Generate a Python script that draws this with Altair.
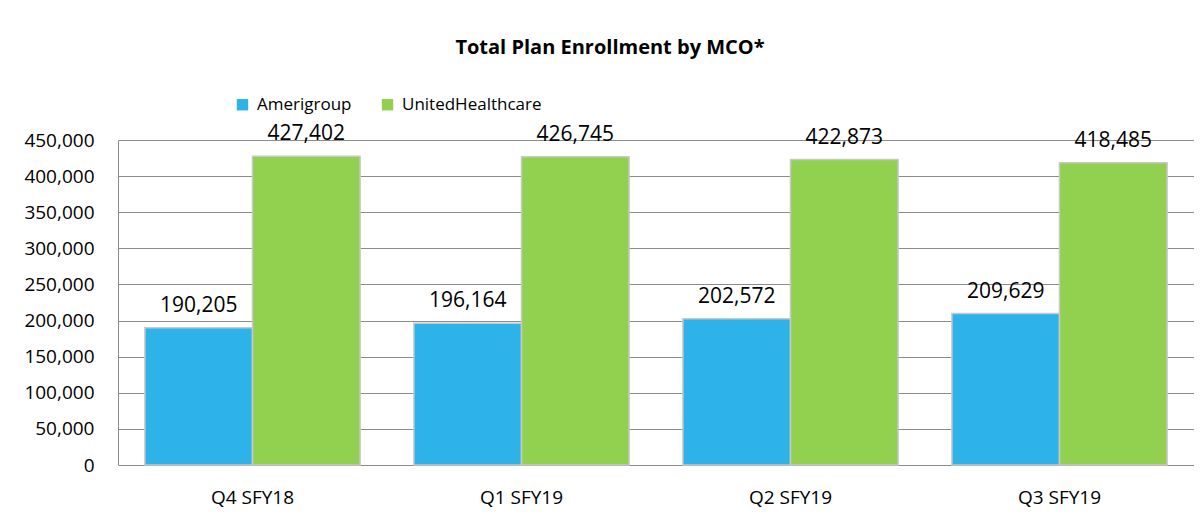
import altair as alt
import pandas as pd

quarters = ["Q4 SFY18", "Q1 SFY19", "Q2 SFY19", "Q3 SFY19"]
amerigroup = [190205, 196164, 202572, 209629]
united = [427402, 426745, 422873, 418485]
series = ["Amerigroup", "UnitedHealthcare"]
colors = ["#2EB2EA", "#92D050"]
y_ticks = [0, 50000, 100000, 150000, 200000, 250000, 300000, 350000, 400000, 450000]

rows = []
for q, a, u in zip(quarters, amerigroup, united):
    rows.append({"quarter": q, "plan": series[0], "enrollment": a})
    rows.append({"quarter": q, "plan": series[1], "enrollment": u})
df = pd.DataFrame(rows)

FONT = "Open Sans"
GRID = "#8c8c8c"

base = alt.Chart(df).encode(
    x=alt.X(
        "quarter:N",
        sort=quarters,
        title=None,
        scale=alt.Scale(paddingInner=0.2, paddingOuter=0.1),
        axis=alt.Axis(labelAngle=0, labelFontSize=19, labelFont=FONT, labelColor="black",
                      labelPadding=23, ticks=False, domain=False, grid=False),
    ),
    xOffset=alt.XOffset("plan:N", sort=series, scale=alt.Scale(paddingInner=0, paddingOuter=0)),
    y=alt.Y(
        "enrollment:Q",
        title=None,
        scale=alt.Scale(domain=[0, 450000], nice=False),
        axis=alt.Axis(values=y_ticks, format=",.0f", labelFontSize=19, labelFont=FONT,
                      labelColor="black", labelPadding=24, ticks=False, domain=True,
                      domainColor=GRID, gridColor=GRID, gridWidth=1.2, gridOpacity=1),
    ),
)

bars = base.mark_bar(stroke="#c8c8c8", strokeWidth=1.5).encode(
    color=alt.Color(
        "plan:N",
        sort=series,
        scale=alt.Scale(domain=series, range=colors),
        legend=alt.Legend(
            title=None, orient="none", legendX=116, legendY=-44, direction="horizontal",
            symbolType="square", symbolSize=130, symbolStrokeWidth=0, labelFontSize=17,
            labelFont=FONT, labelColor="black", columnPadding=27, labelOffset=6,
        ),
    )
)

labels = base.mark_text(dy=-16, baseline="alphabetic", fontSize=21, font=FONT, color="black").encode(
    text=alt.Text("enrollment:Q", format=",.0f")
)

chart = (
    alt.layer(bars, labels)
    .properties(
        width=1076,
        height=325,
        autosize=alt.AutoSizeParams(type="none"),
        padding={"left": 110, "top": 132, "right": 0, "bottom": 51},
        title=alt.Title("Total Plan Enrollment by MCO*", fontSize=20, fontWeight="bold",
                        font=FONT, color="black", anchor="middle", dx=-46, offset=28,
                        baseline="middle"),
    )
    .configure_view(stroke=None)
)

chart.save("out.html", embed_options={"renderer": "svg", "actions": False})
